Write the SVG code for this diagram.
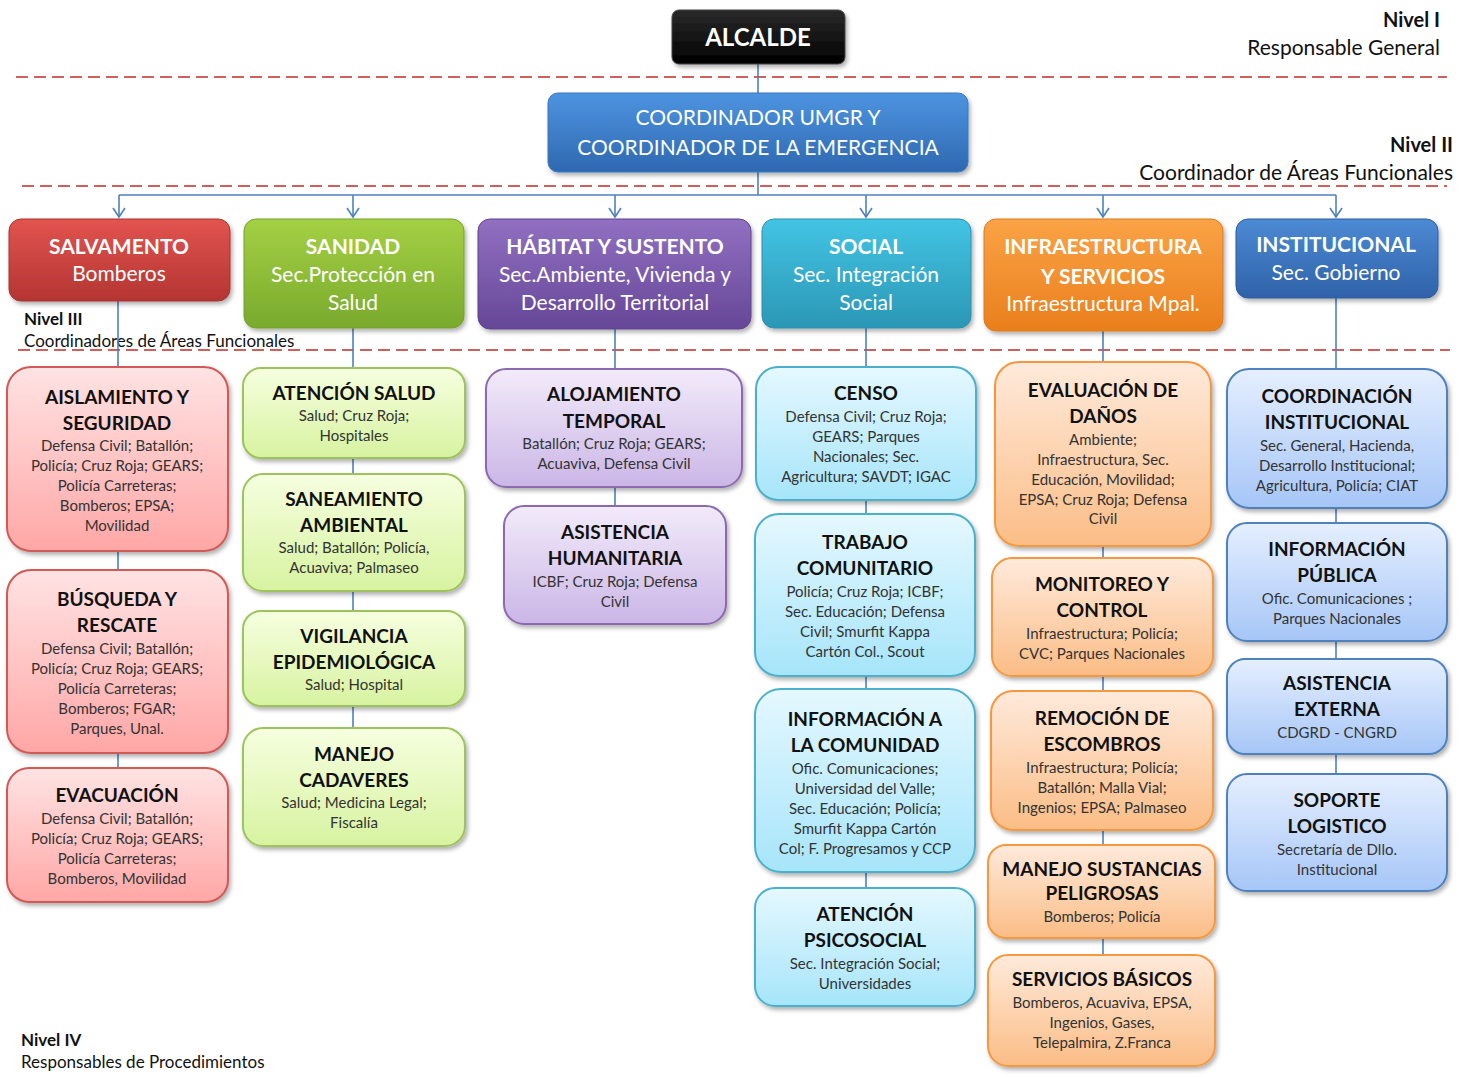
<svg xmlns="http://www.w3.org/2000/svg" width="1459" height="1077" viewBox="0 0 1459 1077">
<defs>
<filter id="sh" x="-10%" y="-10%" width="125%" height="130%"><feDropShadow dx="2" dy="3" stdDeviation="2" flood-color="#000" flood-opacity="0.3"/></filter>
<linearGradient id="gBlack" x1="0" y1="0" x2="0" y2="1"><stop offset="0" stop-color="#2a2a2a"/><stop offset="1" stop-color="#000"/></linearGradient>
<linearGradient id="gCoord" x1="0" y1="0" x2="0" y2="1"><stop offset="0" stop-color="#4d94e0"/><stop offset="1" stop-color="#2e68b0"/></linearGradient>
<linearGradient id="gRed" x1="0" y1="0" x2="0" y2="1"><stop offset="0" stop-color="#e2544f"/><stop offset="1" stop-color="#b33532"/></linearGradient>
<linearGradient id="gGreen" x1="0" y1="0" x2="0" y2="1"><stop offset="0" stop-color="#a4d044"/><stop offset="1" stop-color="#79aa2c"/></linearGradient>
<linearGradient id="gPurple" x1="0" y1="0" x2="0" y2="1"><stop offset="0" stop-color="#9170c2"/><stop offset="1" stop-color="#664797"/></linearGradient>
<linearGradient id="gCyan" x1="0" y1="0" x2="0" y2="1"><stop offset="0" stop-color="#43c4e3"/><stop offset="1" stop-color="#2b97b5"/></linearGradient>
<linearGradient id="gOrange" x1="0" y1="0" x2="0" y2="1"><stop offset="0" stop-color="#faa346"/><stop offset="1" stop-color="#ea7f1c"/></linearGradient>
<linearGradient id="gBlue" x1="0" y1="0" x2="0" y2="1"><stop offset="0" stop-color="#4c8ad4"/><stop offset="1" stop-color="#2f62a8"/></linearGradient>
<linearGradient id="pRed" x1="0" y1="0" x2="0" y2="1"><stop offset="0" stop-color="#ffe3e3"/><stop offset="1" stop-color="#ffa7a6"/></linearGradient>
<linearGradient id="pGreen" x1="0" y1="0" x2="0" y2="1"><stop offset="0" stop-color="#f6ffe0"/><stop offset="1" stop-color="#d7f3a0"/></linearGradient>
<linearGradient id="pPurple" x1="0" y1="0" x2="0" y2="1"><stop offset="0" stop-color="#f2ebfa"/><stop offset="1" stop-color="#cbb6e6"/></linearGradient>
<linearGradient id="pCyan" x1="0" y1="0" x2="0" y2="1"><stop offset="0" stop-color="#e5f8ff"/><stop offset="1" stop-color="#a6e5fa"/></linearGradient>
<linearGradient id="pOrange" x1="0" y1="0" x2="0" y2="1"><stop offset="0" stop-color="#ffeadb"/><stop offset="1" stop-color="#fbbd86"/></linearGradient>
<linearGradient id="pBlue" x1="0" y1="0" x2="0" y2="1"><stop offset="0" stop-color="#e5efff"/><stop offset="1" stop-color="#a6c6f7"/></linearGradient>
<marker id="arr" markerWidth="14" markerHeight="14" refX="12" refY="7" orient="auto" markerUnits="userSpaceOnUse" viewBox="0 0 14 14">
<polyline points="3,1 12,7 3,13" fill="none" stroke="#4f81bd" stroke-width="1.6"/>
</marker>
</defs>
<style>
text{font-family:Lato,"Liberation Sans",sans-serif;text-anchor:middle}
.dash{stroke:#d0605c;stroke-width:2;stroke-dasharray:12 6;fill:none}
.con{stroke:#4f81bd;stroke-width:1.6;fill:none}
.lvl{font-size:21px;fill:#111;text-anchor:end}
.lvlB{font-size:20px;fill:#111;text-anchor:end;font-weight:bold}
.lvlL{font-size:17px;fill:#111;text-anchor:start}
.b{font-weight:bold}
.t3{font-size:21px;font-weight:bold;fill:#fff}
.s3{font-size:21px;fill:#fff}
.t4{font-size:19px;font-weight:bold;fill:#111}
.s4{font-size:15px;fill:#333}
.r4{stroke-width:2;filter:url(#sh)}
.red{fill:url(#pRed);stroke:#cf5a57}
.grn{fill:url(#pGreen);stroke:#9ec25b}
.pur{fill:url(#pPurple);stroke:#8b6bb0}
.cya{fill:url(#pCyan);stroke:#4eb0cb}
.org{fill:url(#pOrange);stroke:#f5983f}
.blu{fill:url(#pBlue);stroke:#4f81bd}
</style>

<g id="levels">
<line class="dash" x1="16" y1="77" x2="1447" y2="77"/>
<line class="dash" x1="22" y1="186" x2="1447" y2="186"/>
<line class="dash" x1="18" y1="350" x2="1450" y2="350"/>
<text class="lvlB" x="1440" y="27">Nivel I</text>
<text class="lvl" x="1440" y="55">Responsable General</text>
<text class="lvlB" x="1453" y="152">Nivel II</text>
<text class="lvl" x="1453" y="180">Coordinador de Áreas Funcionales</text>
<text class="lvlL b" x="24" y="325">Nivel III</text>
<text class="lvlL" x="24" y="347">Coordinadores de Áreas Funcionales</text>
<text class="lvlL b" x="21" y="1046">Nivel IV</text>
<text class="lvlL" x="21" y="1068">Responsables de Procedimientos</text>
</g>

<g id="connectors">
<line class="con" x1="758" y1="64" x2="758" y2="93"/>
<line class="con" x1="758" y1="172" x2="758" y2="195"/>
<line class="con" x1="119" y1="195" x2="1336" y2="195"/>
<line class="con" x1="119" y1="195" x2="119" y2="217" marker-end="url(#arr)"/>
<line class="con" x1="353" y1="195" x2="353" y2="217" marker-end="url(#arr)"/>
<line class="con" x1="615" y1="195" x2="615" y2="217" marker-end="url(#arr)"/>
<line class="con" x1="866" y1="195" x2="866" y2="217" marker-end="url(#arr)"/>
<line class="con" x1="1103" y1="195" x2="1103" y2="217" marker-end="url(#arr)"/>
<line class="con" x1="1336" y1="195" x2="1336" y2="217" marker-end="url(#arr)"/>
<line class="con" x1="118" y1="301" x2="118" y2="768"/>
<line class="con" x1="353" y1="328" x2="353" y2="728"/>
<line class="con" x1="615" y1="329" x2="615" y2="506"/>
<line class="con" x1="866" y1="328" x2="866" y2="888"/>
<line class="con" x1="1103" y1="331" x2="1103" y2="955"/>
<line class="con" x1="1336" y1="298" x2="1336" y2="774"/>
</g>

<g id="alcalde">
<rect x="672" y="10" width="173" height="54" rx="7" fill="url(#gBlack)" stroke="#444" stroke-width="1" filter="url(#sh)"/>
<text x="758" y="46" font-size="24" font-weight="bold" fill="#fff">ALCALDE</text>
</g>
<g id="coordinador">
<rect x="548" y="93" width="420" height="79" rx="10" fill="url(#gCoord)" stroke="#3b78c0" stroke-width="1" filter="url(#sh)"/>
<text x="758" y="125" font-size="21" fill="#fff">COORDINADOR UMGR  Y</text>
<text x="758" y="155" font-size="21" fill="#fff">COORDINADOR DE LA EMERGENCIA</text>
</g>

<g id="salvamento">
<rect x="9" y="219" width="221" height="82" rx="12" fill="url(#gRed)" stroke="#a83330" filter="url(#sh)"/>
<text class="t3" x="119" y="254">SALVAMENTO</text>
<text class="s3" x="119" y="281">Bomberos</text>
</g>
<g id="sanidad">
<rect x="244" y="219" width="220" height="109" rx="12" fill="url(#gGreen)" stroke="#74a22a" filter="url(#sh)"/>
<text class="t3" x="353" y="254">SANIDAD</text>
<text class="s3" x="353" y="282">Sec.Protección en</text>
<text class="s3" x="353" y="310">Salud</text>
</g>
<g id="habitat">
<rect x="478" y="219" width="273" height="110" rx="12" fill="url(#gPurple)" stroke="#5f428e" filter="url(#sh)"/>
<text class="t3" x="615" y="254">HÁBITAT Y SUSTENTO</text>
<text class="s3" x="615" y="282">Sec.Ambiente, Vivienda y</text>
<text class="s3" x="615" y="310">Desarrollo Territorial</text>
</g>
<g id="social">
<rect x="762" y="219" width="209" height="109" rx="12" fill="url(#gCyan)" stroke="#2b90ad" filter="url(#sh)"/>
<text class="t3" x="866" y="254">SOCIAL</text>
<text class="s3" x="866" y="282">Sec. Integración</text>
<text class="s3" x="866" y="310">Social</text>
</g>
<g id="infraestructura">
<rect x="984" y="219" width="239" height="112" rx="12" fill="url(#gOrange)" stroke="#dd7a1c" filter="url(#sh)"/>
<text class="t3" x="1103" y="254">INFRAESTRUCTURA</text>
<text class="t3" x="1103" y="284">Y SERVICIOS</text>
<text class="s3" x="1103" y="311">Infraestructura Mpal.</text>
</g>
<g id="institucional">
<rect x="1236" y="219" width="202" height="79" rx="12" fill="url(#gBlue)" stroke="#2d5e9f" filter="url(#sh)"/>
<text class="t3" x="1336" y="252">INSTITUCIONAL</text>
<text class="s3" x="1336" y="280">Sec. Gobierno</text>
</g>

<g id="aislamiento">
<rect class="r4 red" x="7" y="367" width="221" height="184" rx="24"/>
<text class="t4" x="117" y="404">AISLAMIENTO Y</text>
<text class="t4" x="117" y="430">SEGURIDAD</text>
<text class="s4" x="117" y="451">Defensa Civil; Batallón;</text>
<text class="s4" x="117" y="471">Policía; Cruz Roja; GEARS;</text>
<text class="s4" x="117" y="491">Policía Carreteras;</text>
<text class="s4" x="117" y="511">Bomberos; EPSA;</text>
<text class="s4" x="117" y="531">Movilidad</text>
</g>
<g id="busqueda">
<rect class="r4 red" x="7" y="570" width="221" height="183" rx="24"/>
<text class="t4" x="117" y="606">BÚSQUEDA Y</text>
<text class="t4" x="117" y="632">RESCATE</text>
<text class="s4" x="117" y="654">Defensa Civil; Batallón;</text>
<text class="s4" x="117" y="674">Policía; Cruz Roja; GEARS;</text>
<text class="s4" x="117" y="694">Policía Carreteras;</text>
<text class="s4" x="117" y="714">Bomberos; FGAR;</text>
<text class="s4" x="117" y="734">Parques, Unal.</text>
</g>
<g id="evacuacion">
<rect class="r4 red" x="7" y="768" width="221" height="134" rx="22"/>
<text class="t4" x="117" y="802">EVACUACIÓN</text>
<text class="s4" x="117" y="824">Defensa Civil; Batallón;</text>
<text class="s4" x="117" y="844">Policía; Cruz Roja; GEARS;</text>
<text class="s4" x="117" y="864">Policía Carreteras;</text>
<text class="s4" x="117" y="884">Bomberos, Movilidad</text>
</g>

<g id="atencion-salud">
<rect class="r4 grn" x="243" y="368" width="222" height="90" rx="18"/>
<text class="t4" x="354" y="400">ATENCIÓN SALUD</text>
<text class="s4" x="354" y="421">Salud; Cruz Roja;</text>
<text class="s4" x="354" y="441">Hospitales</text>
</g>
<g id="saneamiento">
<rect class="r4 grn" x="243" y="474" width="222" height="117" rx="20"/>
<text class="t4" x="354" y="506">SANEAMIENTO</text>
<text class="t4" x="354" y="532">AMBIENTAL</text>
<text class="s4" x="354" y="553">Salud; Batallón; Policía,</text>
<text class="s4" x="354" y="573">Acuaviva; Palmaseo</text>
</g>
<g id="vigilancia">
<rect class="r4 grn" x="243" y="611" width="222" height="95" rx="18"/>
<text class="t4" x="354" y="643">VIGILANCIA</text>
<text class="t4" x="354" y="669">EPIDEMIOLÓGICA</text>
<text class="s4" x="354" y="690">Salud; Hospital</text>
</g>
<g id="cadaveres">
<rect class="r4 grn" x="243" y="728" width="222" height="118" rx="20"/>
<text class="t4" x="354" y="761">MANEJO</text>
<text class="t4" x="354" y="787">CADAVERES</text>
<text class="s4" x="354" y="808">Salud; Medicina Legal;</text>
<text class="s4" x="354" y="828">Fiscalía</text>
</g>

<g id="alojamiento">
<rect class="r4 pur" x="486" y="369" width="256" height="118" rx="20"/>
<text class="t4" x="614" y="401">ALOJAMIENTO</text>
<text class="t4" x="614" y="428">TEMPORAL</text>
<text class="s4" x="614" y="449">Batallón; Cruz Roja; GEARS;</text>
<text class="s4" x="614" y="469">Acuaviva, Defensa Civil</text>
</g>
<g id="asistencia-humanitaria">
<rect class="r4 pur" x="504" y="506" width="222" height="118" rx="20"/>
<text class="t4" x="615" y="539">ASISTENCIA</text>
<text class="t4" x="615" y="565">HUMANITARIA</text>
<text class="s4" x="615" y="587">ICBF; Cruz Roja;  Defensa</text>
<text class="s4" x="615" y="607">Civil</text>
</g>

<g id="censo">
<rect class="r4 cya" x="756" y="367" width="220" height="133" rx="22"/>
<text class="t4" x="866" y="400">CENSO</text>
<text class="s4" x="866" y="422">Defensa Civil; Cruz Roja;</text>
<text class="s4" x="866" y="442">GEARS; Parques</text>
<text class="s4" x="866" y="462">Nacionales; Sec.</text>
<text class="s4" x="866" y="482">Agricultura; SAVDT; IGAC</text>
</g>
<g id="trabajo-comunitario">
<rect class="r4 cya" x="755" y="514" width="220" height="162" rx="24"/>
<text class="t4" x="865" y="549">TRABAJO</text>
<text class="t4" x="865" y="575">COMUNITARIO</text>
<text class="s4" x="865" y="597">Policía; Cruz Roja; ICBF;</text>
<text class="s4" x="865" y="617">Sec. Educación; Defensa</text>
<text class="s4" x="865" y="637">Civil; Smurfit  Kappa</text>
<text class="s4" x="865" y="657">Cartón Col., Scout</text>
</g>
<g id="informacion-comunidad">
<rect class="r4 cya" x="755" y="689" width="220" height="183" rx="26"/>
<text class="t4" x="865" y="726">INFORMACIÓN A</text>
<text class="t4" x="865" y="752">LA COMUNIDAD</text>
<text class="s4" x="865" y="774">Ofic. Comunicaciones;</text>
<text class="s4" x="865" y="794">Universidad del Valle;</text>
<text class="s4" x="865" y="814">Sec. Educación; Policía;</text>
<text class="s4" x="865" y="834">Smurfit  Kappa Cartón</text>
<text class="s4" x="865" y="854">Col; F. Progresamos y CCP</text>
</g>
<g id="psicosocial">
<rect class="r4 cya" x="755" y="888" width="220" height="118" rx="20"/>
<text class="t4" x="865" y="921">ATENCIÓN</text>
<text class="t4" x="865" y="947">PSICOSOCIAL</text>
<text class="s4" x="865" y="969">Sec. Integración Social;</text>
<text class="s4" x="865" y="989">Universidades</text>
</g>

<g id="evaluacion">
<rect class="r4 org" x="995" y="362" width="216" height="184" rx="24"/>
<text class="t4" x="1103" y="397">EVALUACIÓN DE</text>
<text class="t4" x="1103" y="423">DAÑOS</text>
<text class="s4" x="1103" y="445">Ambiente;</text>
<text class="s4" x="1103" y="465">Infraestructura, Sec.</text>
<text class="s4" x="1103" y="485">Educación, Movilidad;</text>
<text class="s4" x="1103" y="505">EPSA; Cruz Roja; Defensa</text>
<text class="s4" x="1103" y="524">Civil</text>
</g>
<g id="monitoreo">
<rect class="r4 org" x="992" y="558" width="221" height="118" rx="20"/>
<text class="t4" x="1102" y="591">MONITOREO Y</text>
<text class="t4" x="1102" y="617">CONTROL</text>
<text class="s4" x="1102" y="639">Infraestructura; Policía;</text>
<text class="s4" x="1102" y="659">CVC; Parques Nacionales</text>
</g>
<g id="remocion">
<rect class="r4 org" x="991" y="691" width="222" height="139" rx="22"/>
<text class="t4" x="1102" y="725">REMOCIÓN DE</text>
<text class="t4" x="1102" y="751">ESCOMBROS</text>
<text class="s4" x="1102" y="773">Infraestructura; Policía;</text>
<text class="s4" x="1102" y="793">Batallón; Malla Vial;</text>
<text class="s4" x="1102" y="813">Ingenios; EPSA; Palmaseo</text>
</g>
<g id="sustancias">
<rect class="r4 org" x="988" y="845" width="227" height="93" rx="18"/>
<text class="t4" x="1102" y="876">MANEJO SUSTANCIAS</text>
<text class="t4" x="1102" y="900">PELIGROSAS</text>
<text class="s4" x="1102" y="922">Bomberos; Policía</text>
</g>
<g id="servicios-basicos">
<rect class="r4 org" x="988" y="955" width="227" height="111" rx="20"/>
<text class="t4" x="1102" y="986">SERVICIOS BÁSICOS</text>
<text class="s4" x="1102" y="1008">Bomberos, Acuaviva, EPSA,</text>
<text class="s4" x="1102" y="1028">Ingenios, Gases,</text>
<text class="s4" x="1102" y="1048">Telepalmira, Z.Franca</text>
</g>

<g id="coordinacion-institucional">
<rect class="r4 blu" x="1227" y="369" width="220" height="139" rx="22"/>
<text class="t4" x="1337" y="403">COORDINACIÓN</text>
<text class="t4" x="1337" y="429">INSTITUCIONAL</text>
<text class="s4" x="1337" y="451">Sec. General, Hacienda,</text>
<text class="s4" x="1337" y="471">Desarrollo  Institucional;</text>
<text class="s4" x="1337" y="491">Agricultura, Policía; CIAT</text>
</g>
<g id="informacion-publica">
<rect class="r4 blu" x="1227" y="523" width="220" height="118" rx="20"/>
<text class="t4" x="1337" y="556">INFORMACIÓN</text>
<text class="t4" x="1337" y="582">PÚBLICA</text>
<text class="s4" x="1337" y="604">Ofic. Comunicaciones ;</text>
<text class="s4" x="1337" y="624">Parques Nacionales</text>
</g>
<g id="asistencia-externa">
<rect class="r4 blu" x="1227" y="659" width="220" height="95" rx="18"/>
<text class="t4" x="1337" y="690">ASISTENCIA</text>
<text class="t4" x="1337" y="716">EXTERNA</text>
<text class="s4" x="1337" y="738">CDGRD - CNGRD</text>
</g>
<g id="soporte-logistico">
<rect class="r4 blu" x="1227" y="774" width="220" height="117" rx="20"/>
<text class="t4" x="1337" y="807">SOPORTE</text>
<text class="t4" x="1337" y="833">LOGISTICO</text>
<text class="s4" x="1337" y="855">Secretaría de Dllo.</text>
<text class="s4" x="1337" y="875">Institucional</text>
</g>
</svg>
